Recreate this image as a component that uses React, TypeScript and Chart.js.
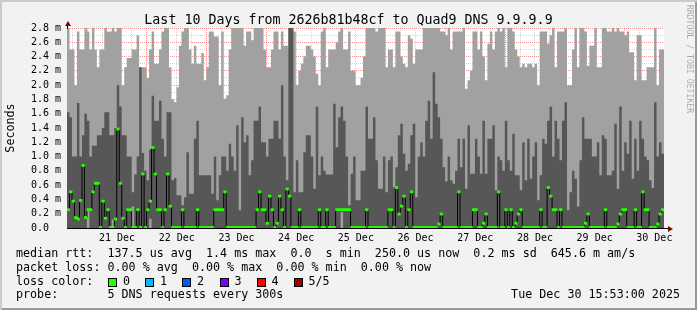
import React, { useEffect, useRef } from "react";
import { Chart, registerables } from "chart.js";

Chart.register(...registerables);

const TITLE = "Last 10 Days from 2626b81b48cf to Quad9 DNS 9.9.9.9";
const Y_TITLE = "Seconds";
const WATERMARK = "RRDTOOL / TOBI OETIKER";
const DAY_LABELS = ["21 Dec", "22 Dec", "23 Dec", "24 Dec", "25 Dec", "26 Dec", "27 Dec", "28 Dec", "29 Dec", "30 Dec"];
const HOURS = 240;
const FIRST_MIDNIGHT = 8.117; // hours from graph start (20 Dec 15:53) to 21 Dec 00:00
const Y_MAX = 2.8; // ms

// hourly smoke: highest of the 5 requests (ms); values over 2.8 run off the top
const smokeTop = [
  3, 2.5, 2.5, 2.0, 2.75, 2.5, 2.5, 3, 2.75, 2.5,
  3, 2.5, 2.25, 2.5, 2.5, 3, 2.75, 2.75, 3, 2.75,
  3, 3, 2.0, 2.25, 2.38, 2.38, 2.5, 2.5, 2.7, 2.25,
  2.25, 2.25, 2.1, 2.5, 2.75, 2.3, 2.3, 2.5, 2.75, 3,
  3, 2.25, 1.8, 1.76, 1.97, 2.55, 2.75, 3, 3, 2.5,
  2.3, 2.55, 2.3, 2.3, 2.45, 2.07, 2.25, 2.75, 2.75, 2.68,
  2.68, 2.0, 2.75, 1.81, 1.86, 2.5, 3, 3, 3, 3,
  3, 2.55, 2.75, 2.75, 2.63, 3, 3, 3, 3, 2.5,
  2.25, 2.25, 2.5, 2.75, 2.75, 2.5, 2.75, 2.55, 2.55, 3,
  3, 2.75, 2.0, 2.2, 2.3, 2.4, 2.55, 2.55, 2.5, 2.4,
  2.16, 2.0, 2.75, 3, 2.25, 2.5, 2.5, 2.5, 2.6, 2.75,
  3, 2.5, 2.5, 2.75, 2.2, 2.2, 2.0, 2.0, 2.1, 2.4,
  3, 3, 3, 3, 2.75, 3, 3, 3, 2.25, 2.5,
  2.5, 2.25, 2.75, 2.75, 2.4, 2.3, 2.25, 2.7, 2.65, 2.3,
  2.5, 2.5, 2.5, 3, 3, 3, 3, 3, 3, 3,
  2.75, 2.75, 2.7, 3, 2.5, 2.75, 2.75, 2.75, 2.75, 3,
  1.95, 2.07, 2.2, 2.75, 2.75, 2.5, 2.75, 2.4, 2.07, 2.58,
  2.75, 2.5, 2.75, 3, 2.75, 3, 2.25, 3, 3, 2.75,
  2.5, 2.4, 2.25, 2.3, 2.25, 2.3, 2.3, 2.25, 2.3, 2.0,
  2.75, 2.75, 2.75, 2.58, 2.7, 3, 2.25, 2.75, 2.75, 2.75,
  3, 2.0, 2.0, 2.5, 3, 2.25, 3, 3, 2.75, 2.27,
  2.55, 2.55, 3, 2.25, 2.25, 3, 3, 2.75, 2.75, 3,
  2.75, 3, 2.75, 2.75, 2.7, 2.75, 2.46, 2.46, 2.07, 2.7,
  2.7, 2.07, 2.07, 2.25, 2.25, 2.25, 3, 2.0, 2.5, 2.5,
];

// hourly smoke: 4th of the 5 sorted requests (ms), the dark band
const smokeInner = [
  1.62, 1.55, 1.0, 1.0, 1.75, 1.0, 1.3, 1.6, 1.5, 1.0,
  1.15, 1.15, 1.3, 1.3, 1.4, 1.62, 1.62, 1.3, 1.3, 1.4,
  2.0, 1.7, 1.3, 1.3, 1.0, 1.0, 0.5, 0.75, 1.0, 2.25,
  1.05, 0.8, 0.67, 1.1, 1.85, 1.5, 1.5, 1.78, 1.25, 1.0,
  1.62, 1.62, 0.67, 0.7, 0.46, 0.46, 0.32, 0.43, 1.06, 0.48,
  0.48, 1.25, 1.5, 0.74, 0.74, 0.74, 0.74, 0.74, 0.48, 1.0,
  0.39, 0.74, 1.0, 1.0, 0.8, 1.18, 1.0, 0.8, 1.44, 0.25,
  1.55, 1.2, 1.3, 0.74, 0.95, 1.5, 1.5, 1.7, 1.2, 1.2,
  1.0, 1.25, 1.25, 1.5, 1.5, 1.25, 2.0, 1.0, 0.67, 3,
  3, 0.5, 0.95, 0.5, 0.5, 1.06, 1.3, 1.3, 1.0, 0.55,
  1.7, 0.74, 1.0, 0.8, 0.75, 0.75, 0.75, 1.74, 1.13, 1.55,
  1.7, 1.5, 1.0, 0.32, 0.76, 1.0, 0.39, 0.39, 0.8, 0.8,
  1.7, 1.25, 1.25, 1.55, 0.95, 0.55, 0.55, 1.0, 0.5, 0.95,
  1.0, 0.57, 0.85, 1.3, 1.46, 1.04, 0.8, 0.9, 1.3, 1.46,
  0.43, 1.0, 1.2, 1.0, 1.5, 1.78, 1.25, 2.18, 1.74, 1.55,
  1.25, 0.85, 0.65, 1.0, 0.67, 0.62, 0.8, 1.25, 0.85, 1.25,
  0.55, 1.44, 0.76, 0.76, 1.25, 1.0, 0.76, 1.5, 0.76, 1.25,
  1.25, 1.44, 0.53, 1.0, 0.95, 0.8, 1.5, 0.95, 0.8, 1.32,
  0.74, 0.74, 0.53, 1.2, 0.67, 1.25, 0.69, 1.0, 1.2, 0.39,
  0.74, 1.25, 1.18, 1.5, 1.7, 1.0, 1.5, 1.25, 0.95, 1.5,
  1.76, 0.25, 0.5, 0.8, 0.69, 0.3, 0.95, 1.55, 1.25, 1.25,
  1.25, 1.0, 1.0, 1.2, 0.74, 1.3, 1.25, 0.74, 0.74, 0.8,
  1.46, 0.55, 1.7, 0.8, 1.2, 1.04, 1.5, 0.69, 1.25, 0.8,
  1.5, 1.25, 1.0, 0.95, 0.67, 0.56, 1.76, 1.0, 1.2, 1.04,
];

// hours where the dark band starts above zero (2nd sorted request), ms
const innerBaseHours = [8, 18, 26, 33, 110];
const innerBaseValues = [0.25, 0.12, 0.3, 0.13, 0.22];

// hourly median rtt (ms)
const medianRtt = [
  0.25, 0.5, 0.37, 0.14, 0.12, 0.38, 0.87, 0.14, 0.25, 0.25,
  0.5, 0.62, 0.62, 0, 0.37, 0.13, 0.25, 0, 0, 0.12,
  1.38, 0.62, 0.13, 0, 0.25, 0.25, 0, 0, 0.25, 0,
  0.75, 0, 0.25, 0.37, 1.12, 0.75, 0.25, 0.25, 0, 0.25,
  0.75, 0.3, 0, 0, 0, 0, 0.25, 0, 0, 0,
  0, 0, 0.25, 0, 0, 0, 0, 0, 0, 0.25,
  0.25, 0.25, 0.25, 0.5, 0, 0, 0, 0, 0, 0,
  0, 0, 0, 0, 0, 0, 0.25, 0.5, 0.25, 0.25,
  0.06, 0.44, 0.25, 0, 0.06, 0.44, 0.25, 0, 0.54, 0.44,
  0, 0, 0, 0.25, 0, 0, 0, 0, 0, 0,
  0, 0.25, 0, 0, 0.25, 0, 0, 0, 0.25, 0.25,
  0.25, 0.25, 0.25, 0.25, 0, 0, 0, 0, 0, 0,
  0.25, 0, 0, 0, 0, 0, 0, 0, 0, 0.25,
  0.25, 0, 0.56, 0.19, 0.3, 0.44, 0, 0.25, 0.5, 0,
  0, 0, 0, 0, 0, 0, 0, 0, 0, 0.05,
  0.19, 0, 0, 0, 0, 0, 0, 0.5, 0, 0,
  0, 0, 0, 0.25, 0.25, 0, 0, 0.06, 0.19, 0,
  0, 0, 0, 0.5, 0, 0, 0.25, 0, 0.25, 0,
  0.06, 0.19, 0.25, 0, 0, 0, 0, 0, 0, 0,
  0.25, 0, 0, 0.56, 0.44, 0.25, 0.25, 0, 0.25, 0,
  0, 0, 0, 0, 0, 0, 0, 0, 0.06, 0.19,
  0, 0, 0, 0, 0, 0, 0.25, 0, 0, 0,
  0, 0.05, 0.19, 0.25, 0.25, 0, 0, 0, 0.25, 0,
  0, 0.5, 0.25, 0.25, 0, 0, 0, 0.05, 0.19, 0.25,
];

const LEGEND_RTT = "median rtt:  137.5 us avg  1.4 ms max  0.0  s min  250.0 us now  0.2 ms sd  645.6 m am/s";
const LEGEND_LOSS = "packet loss: 0.00 % avg  0.00 % max  0.00 % min  0.00 % now";
const LOSS_TITLE = "loss color:";
const LOSS_LABELS = ["0", "1", "2", "3", "4", "5/5"];
const LOSS_COLORS = ["#26ff00", "#00b8ff", "#0059ff", "#7e00ff", "#ff0000", "#a10000"];
const PROBE_TEXT = "probe:       5 DNS requests every 300s";
const TIMESTAMP = "Tue Dec 30 15:53:00 2025";

const LIGHT = "#a1a1a1";
const DARK = "#575757";
const MGRID = "rgba(235,40,40,0.5)";
const GRID = "rgba(200,200,200,0.75)";
const MONO = '"DejaVu Sans Mono", monospace';

const plotBackground = {
  id: "plotBackground",
  beforeDraw(chart: any) {
    const { ctx, chartArea } = chart;
    ctx.save();
    ctx.fillStyle = "#ffffff";
    ctx.fillRect(chartArea.left, chartArea.top, chartArea.right - chartArea.left, chartArea.bottom - chartArea.top);
    ctx.restore();
  },
};

// step series: one flat step per hour bucket, padded to the plot edges
function stepSeries(values: number[]) {
  const pts = [{ x: 0, y: values[0] }];
  values.forEach((y, i) => pts.push({ x: i + 0.5, y }));
  pts.push({ x: values.length, y: values[values.length - 1] });
  return pts;
}

export default function App() {
  const ref = useRef<HTMLCanvasElement>(null);

  useEffect(() => {
    if (!ref.current) return;
    const centers = smokeTop.map((_, i) => i + 0.5);
    const innerBase = smokeTop.map((_, i) => {
      const k = innerBaseHours.indexOf(i);
      return k >= 0 ? innerBaseValues[k] : 0;
    });
    const xTicks: number[] = [];
    for (let v = FIRST_MIDNIGHT - 6; v < HOURS; v += 6) xTicks.push(v);
    const yTicks: number[] = [];
    for (let k = 0; k <= 28; k++) yTicks.push(k / 10);

    const isMidnight = (v: number) => {
      const d = (v - FIRST_MIDNIGHT) / 24;
      return Math.abs(d - Math.round(d)) < 1e-6;
    };
    const noonIndex = (v: number) => {
      const d = (v - FIRST_MIDNIGHT - 12) / 24;
      return Math.abs(d - Math.round(d)) < 1e-6 ? Math.round(d) : -1;
    };
    const areaCommon = {
      type: "line",
      stepped: "middle",
      pointRadius: 0,
      borderWidth: 0,
      borderColor: "rgba(0,0,0,0)",
      tension: 0,
    };

    const chart = new Chart(ref.current, {
      type: "bar",
      data: {
        datasets: [
          {
            ...areaCommon,
            label: "smoke outer",
            data: stepSeries(smokeTop),
            fill: "origin",
            backgroundColor: LIGHT,
            order: 6,
          },
          {
            ...areaCommon,
            label: "smoke inner base",
            data: stepSeries(innerBase),
            fill: false,
            backgroundColor: "rgba(0,0,0,0)",
            order: 5,
          },
          {
            ...areaCommon,
            label: "smoke inner",
            data: stepSeries(smokeInner),
            fill: { target: 1 },
            backgroundColor: DARK,
            order: 4,
          },
          {
            type: "line",
            label: "median step",
            data: centers.map((x, i) => ({ x, y: medianRtt[i] })),
            borderColor: "#000000",
            borderWidth: 1,
            stepped: "middle",
            pointRadius: 0,
            fill: false,
            order: 2,
          },
          {
            type: "bar",
            label: "median rtt (loss 0)",
            data: centers.map((x, i) => ({ x, y: [medianRtt[i] - 0.008, medianRtt[i] + 0.02] })),
            backgroundColor: LOSS_COLORS[0],
            grouped: false,
            barPercentage: 1,
            categoryPercentage: 1,
            borderWidth: 0,
            inflateAmount: 0.4,
            order: 1,
          },
        ] as any,
      },
      options: {
        responsive: false,
        animation: false,
        devicePixelRatio: 1,
        events: [],
        layout: { padding: { left: 31, top: 28, right: 33, bottom: 60 } },
        plugins: { legend: { display: false }, tooltip: { enabled: false }, title: { display: false } },
        scales: {
          x: {
            type: "linear",
            min: 0,
            max: HOURS,
            offset: false,
            z: 1,
            grid: {
              offset: false,
              drawTicks: false,
              lineWidth: 1,
              color: (c: any) => (isMidnight(c.tick.value) ? MGRID : GRID),
            },
            border: { display: true, color: "#000000", width: 1, dash: [1, 1] },
            afterBuildTicks: (s: any) => {
              s.ticks = xTicks.map((value) => ({ value }));
            },
            afterFit: (s: any) => {
              s.height = 22;
            },
            ticks: {
              autoSkip: false,
              maxRotation: 0,
              minRotation: 0,
              padding: 4,
              color: "#000000",
              font: { family: MONO, size: 10 },
              callback: (v: any) => {
                const n = noonIndex(Number(v));
                return n >= 0 && n < DAY_LABELS.length ? DAY_LABELS[n] : "";
              },
            },
          },
          y: {
            min: 0,
            max: Y_MAX,
            z: 1,
            grid: {
              drawTicks: false,
              lineWidth: 1,
              color: (c: any) => (Math.round(c.tick.value * 10) % 2 === 0 ? MGRID : GRID),
            },
            border: { display: true, color: "#000000", width: 1, dash: [1, 1] },
            afterBuildTicks: (s: any) => {
              s.ticks = yTicks.map((value) => ({ value }));
            },
            afterFit: (s: any) => {
              s.width = 36;
            },
            ticks: {
              autoSkip: false,
              crossAlign: "far",
              padding: 0,
              color: "#000000",
              font: { family: MONO, size: 10 },
              callback: (v: any) => {
                const k = Math.round(Number(v) * 10);
                if (k % 2 !== 0) return "";
                return k === 0 ? "0.0" : (k / 10).toFixed(1) + " m";
              },
            },
          },
        },
      } as any,
      plugins: [plotBackground],
    });
    return () => chart.destroy();
  }, []);

  const legendFs = 11.7;
  const legendTop = (baseline: number) => baseline - 0.846 * legendFs;
  const lineStyle = (baseline: number): React.CSSProperties => ({
    position: "absolute",
    left: 16,
    top: legendTop(baseline),
    fontSize: legendFs,
    lineHeight: `${legendFs}px`,
    whiteSpace: "pre",
  });
  const boxLefts = [108, 145, 182, 219.5, 256.5, 293.5];

  return (
    <div
      style={{
        position: "absolute",
        left: 0,
        top: 0,
        width: 697,
        height: 310,
        overflow: "hidden",
        background: "#f2f2f2",
        boxShadow: "inset 2px 2px 0 #cbcbcb, inset -2px -2px 0 #999999",
        fontFamily: MONO,
        color: "#000",
      }}
    >
      <canvas ref={ref} width={697} height={310} style={{ position: "absolute", left: 0, top: 0, width: 697, height: 310 }} />
      <div
        style={{
          position: "absolute",
          left: 0,
          top: 12.75,
          width: 697,
          textAlign: "center",
          fontSize: 13.3,
          lineHeight: "13.3px",
          whiteSpace: "pre",
        }}
      >
        {TITLE}
      </div>
      <div
        style={{
          position: "absolute",
          left: 11,
          top: 128,
          transform: "translate(-50%, -50%) rotate(-90deg)",
          fontSize: 11.7,
          lineHeight: "11.7px",
          whiteSpace: "pre",
        }}
      >
        {Y_TITLE}
      </div>
      <div
        style={{
          position: "absolute",
          left: 689.5,
          top: 59,
          transform: "translate(-50%, -50%) rotate(90deg)",
          fontSize: 8.2,
          lineHeight: "8.2px",
          whiteSpace: "pre",
          color: "rgba(0,0,0,0.3)",
        }}
      >
        {WATERMARK}
      </div>
      <div style={{ position: "absolute", left: 67, top: 24, width: 1, height: 5, background: "#000" }} />
      <div
        style={{
          position: "absolute",
          left: 64.5,
          top: 21,
          width: 0,
          height: 0,
          borderLeft: "3px solid transparent",
          borderRight: "3px solid transparent",
          borderBottom: "5px solid #7f0000",
        }}
      />
      <div style={{ position: "absolute", left: 664, top: 228, width: 5, height: 1, background: "#000" }} />
      <div
        style={{
          position: "absolute",
          left: 668,
          top: 225.5,
          width: 0,
          height: 0,
          borderTop: "3px solid transparent",
          borderBottom: "3px solid transparent",
          borderLeft: "5px solid #7f0000",
        }}
      />
      <div style={lineStyle(258)}>{LEGEND_RTT}</div>
      <div style={lineStyle(271.8)}>{LEGEND_LOSS}</div>
      <div style={lineStyle(285.5)}>{LOSS_TITLE}</div>
      {LOSS_LABELS.map((lab, i) => (
        <React.Fragment key={lab}>
          <div
            style={{
              position: "absolute",
              left: boxLefts[i],
              top: 278,
              width: 9,
              height: 9,
              boxSizing: "border-box",
              border: "1px solid #000",
              background: LOSS_COLORS[i],
            }}
          />
          <div style={{ ...lineStyle(285.5), left: boxLefts[i] + 15 }}>{lab}</div>
        </React.Fragment>
      ))}
      <div style={lineStyle(299.2)}>{PROBE_TEXT}</div>
      <div style={{ ...lineStyle(299.2), left: undefined, right: 17 }}>{TIMESTAMP}</div>
    </div>
  );
}
